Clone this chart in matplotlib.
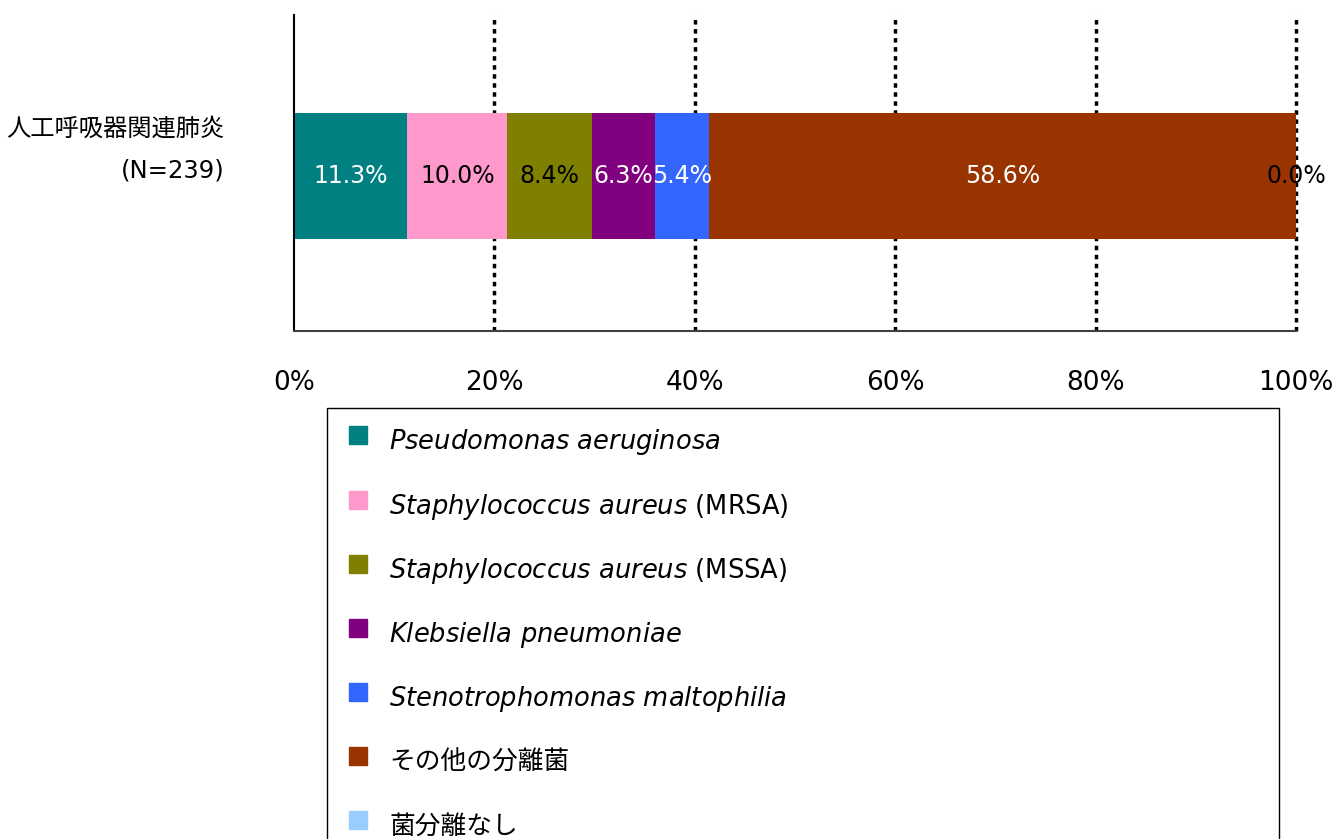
import matplotlib
matplotlib.use('Agg')
import matplotlib.pyplot as plt
from matplotlib.lines import Line2D

plt.rcParams['font.family'] = ['DejaVu Sans', 'Noto Sans CJK JP']
plt.rcParams['mathtext.fontset'] = 'custom'
plt.rcParams['mathtext.it'] = 'DejaVu Sans:italic'
plt.rcParams['mathtext.rm'] = 'DejaVu Sans'

# data
category = '人工呼吸器関連肺炎\n(N=239)'
labels = [r'$\it{Pseudomonas\ aeruginosa}$',
          r'$\it{Staphylococcus\ aureus}$ (MRSA)',
          r'$\it{Staphylococcus\ aureus}$ (MSSA)',
          r'$\it{Klebsiella\ pneumoniae}$',
          r'$\it{Stenotrophomonas\ maltophilia}$',
          'その他の分離菌',
          '菌分離なし']
values = [11.3, 10.0, 8.4, 6.3, 5.4, 58.6, 0.0]
colors = ['#008080', '#FF99CC', '#808000', '#800080', '#3366FF', '#993300', '#99CCFF']
text_colors = ['white', 'black', 'black', 'white', 'white', 'white', 'black']
xticks = [0, 20, 40, 60, 80, 100]

fig = plt.figure(figsize=(13.34, 8.39), dpi=100)
ax = fig.add_axes([294 / 1334, 1 - 331 / 839, (1296 - 294) / 1334, (331 - 15) / 839])

left = 0
for val, col, tc in zip(values, colors, text_colors):
    ax.barh([0], [val], left=left, height=1.0, color=col)
    ax.text(left + val / 2, 0, f'{val:.1f}%', ha='center', va='center',
            color=tc, fontsize=17, clip_on=False)
    left += val

ax.set_xlim(0, 100)
ax.set_ylim(-1.23, 1.278)
ax.set_xticks(xticks)
ax.set_xticklabels([f'{t}%' for t in xticks], fontsize=19)
ax.set_yticks([])
ax.tick_params(axis='x', length=0, pad=28)

# category label, right aligned left of the axis, a bit above bar centre
ax.annotate(category, xy=(0, 0), xycoords='data', xytext=(-50, 19),
            textcoords='offset points', ha='right', va='center',
            ma='right', fontsize=17.5, linespacing=1.9)

ax.set_axisbelow(True)
ax.xaxis.grid(True, color='black', linestyle=(0, (1.3, 1.3)), linewidth=2.5)
gridlines = ax.xaxis.get_gridlines()
for gl in gridlines:
    gl.set_clip_on(False)
gridlines[0].set_visible(False)
for s in ['top', 'right']:
    ax.spines[s].set_visible(False)
ax.spines['left'].set_color('black')
ax.spines['left'].set_linewidth(1.5)
ax.spines['bottom'].set_color('#404040')
ax.spines['bottom'].set_linewidth(1.5)

handles = [Line2D([], [], marker='s', linestyle='none', markersize=13,
                  markerfacecolor=c, markeredgecolor=c) for c in colors]
fig.legend(handles, labels, loc='upper left',
           bbox_to_anchor=(327 / 1334, 1 - 408 / 839, (1279 - 327) / 1334, 0),
           mode='expand', fontsize=18.5, frameon=True, fancybox=False,
           edgecolor='black', framealpha=1, borderpad=0.525,
           handlelength=1.36, handleheight=2.0, handletextpad=0.53,
           labelspacing=0.95, borderaxespad=0)

fig.savefig('out.png', dpi=100)
